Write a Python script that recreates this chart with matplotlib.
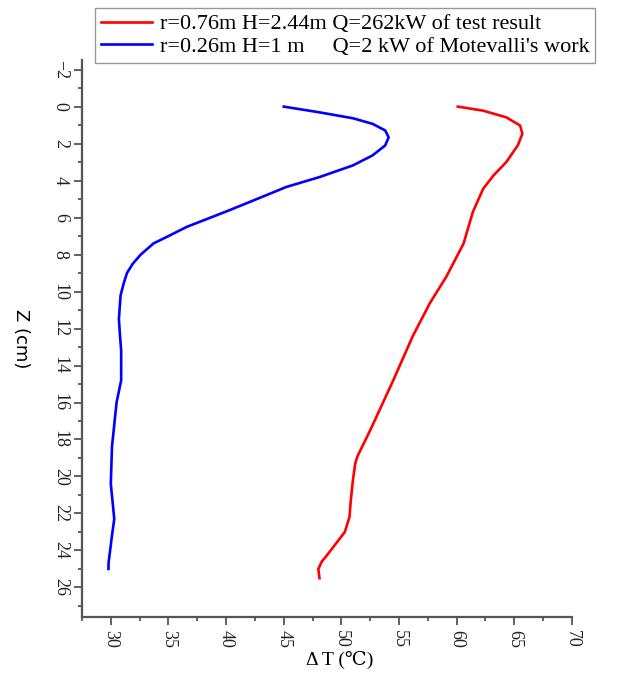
import numpy as np
import matplotlib
matplotlib.use('Agg')
import matplotlib.pyplot as plt
from matplotlib.ticker import MultipleLocator

# red: r=0.76m test result
red_T = [60.1, 62.3, 64.3, 65.5, 65.7, 65.3, 64.3, 63.2, 62.3, 61.4, 60.6, 59.1,
         57.7, 56.2, 54.5, 52.5, 51.4, 51.2, 51.0, 50.8, 50.7, 50.3, 48.7, 48.3,
         48.0, 48.1]
red_z = [0.0, 0.22, 0.58, 1.02, 1.47, 2.1, 3.0, 3.72, 4.44, 5.7, 7.4, 9.2,
         10.6, 12.4, 14.8, 17.5, 18.9, 19.3, 20.2, 21.4, 22.2, 23.0, 24.3, 24.6,
         25.0, 25.5]

# blue: Motevalli's work
blue_T = [45.0, 48.1, 51.0, 52.7, 53.8, 54.1, 53.8, 52.7, 51.0, 48.1, 45.2, 43.8,
          40.3, 36.6, 35.0, 33.7, 32.6, 31.9, 31.4, 31.1, 30.85, 30.7, 30.8, 30.9,
          30.9, 30.5, 30.1, 30.0, 30.3, 30.1, 29.8, 29.8]
blue_z = [0.0, 0.31, 0.63, 0.93, 1.29, 1.66, 2.1, 2.64, 3.18, 3.81, 4.35, 4.71,
          5.6, 6.5, 7.0, 7.4, 8.0, 8.5, 9.0, 9.6, 10.2, 11.5, 12.4, 13.2,
          14.8, 16.0, 18.4, 20.4, 22.3, 23.2, 24.7, 25.0]

labels = ["r=0.76m H=2.44m Q=262kW of test result",
          "r=0.26m H=1 m     Q=2 kW of Motevalli's work"]

serif = ['Liberation Serif', 'DejaVu Serif']

fig = plt.figure(figsize=(6.38, 6.83), dpi=100)
ax = fig.add_axes([0.1285, 0.0966, 0.768, 0.815])

l1, = ax.plot(red_T, red_z, color='red', lw=1.9, solid_joinstyle='round')
l2, = ax.plot(blue_T, blue_z, color='blue', lw=1.9, solid_joinstyle='round')

ax.set_xlim(27.5, 70)
ax.set_ylim(27.6, -2.5)
ax.xaxis.set_major_locator(MultipleLocator(5))
ax.xaxis.set_minor_locator(MultipleLocator(2.5))
ax.yaxis.set_major_locator(MultipleLocator(2))
ax.yaxis.set_minor_locator(MultipleLocator(1))

for s in ['top', 'right']:
    ax.spines[s].set_visible(False)
for s in ['left', 'bottom']:
    ax.spines[s].set_color('#555555')
    ax.spines[s].set_linewidth(1.6)

ax.tick_params(which='major', length=6, width=1.3, color='#555555', direction='out')
ax.tick_params(which='minor', length=3, width=1.3, color='#555555', direction='out')

for t in ax.get_xticklabels() + ax.get_yticklabels():
    t.set_rotation(-90)
    t.set_fontfamily(serif)
    t.set_fontsize(13)
    t.set_color('#222222')
for t in ax.get_yticklabels():
    t.set_va('center')

ax.set_xlabel('Δ T (\u2103)', fontsize=14, family=serif, va='center')
ax.xaxis.set_label_coords(0.525, -0.077)
ax.set_ylabel('Z (cm)', fontsize=13, rotation=-90, va='center')
ax.yaxis.set_label_coords(-0.125, 0.5)

leg = fig.legend([l1, l2], labels, loc='upper left', bbox_to_anchor=(0.149, 0.988),
                 prop={'family': serif, 'size': 16}, fancybox=False,
                 edgecolor='#999999', framealpha=1, handlelength=2.3,
                 borderpad=0.25, labelspacing=0.1, handletextpad=0.35, borderaxespad=0)
leg.get_frame().set_linewidth(1.0)

fig.savefig('out.png', dpi=100)
